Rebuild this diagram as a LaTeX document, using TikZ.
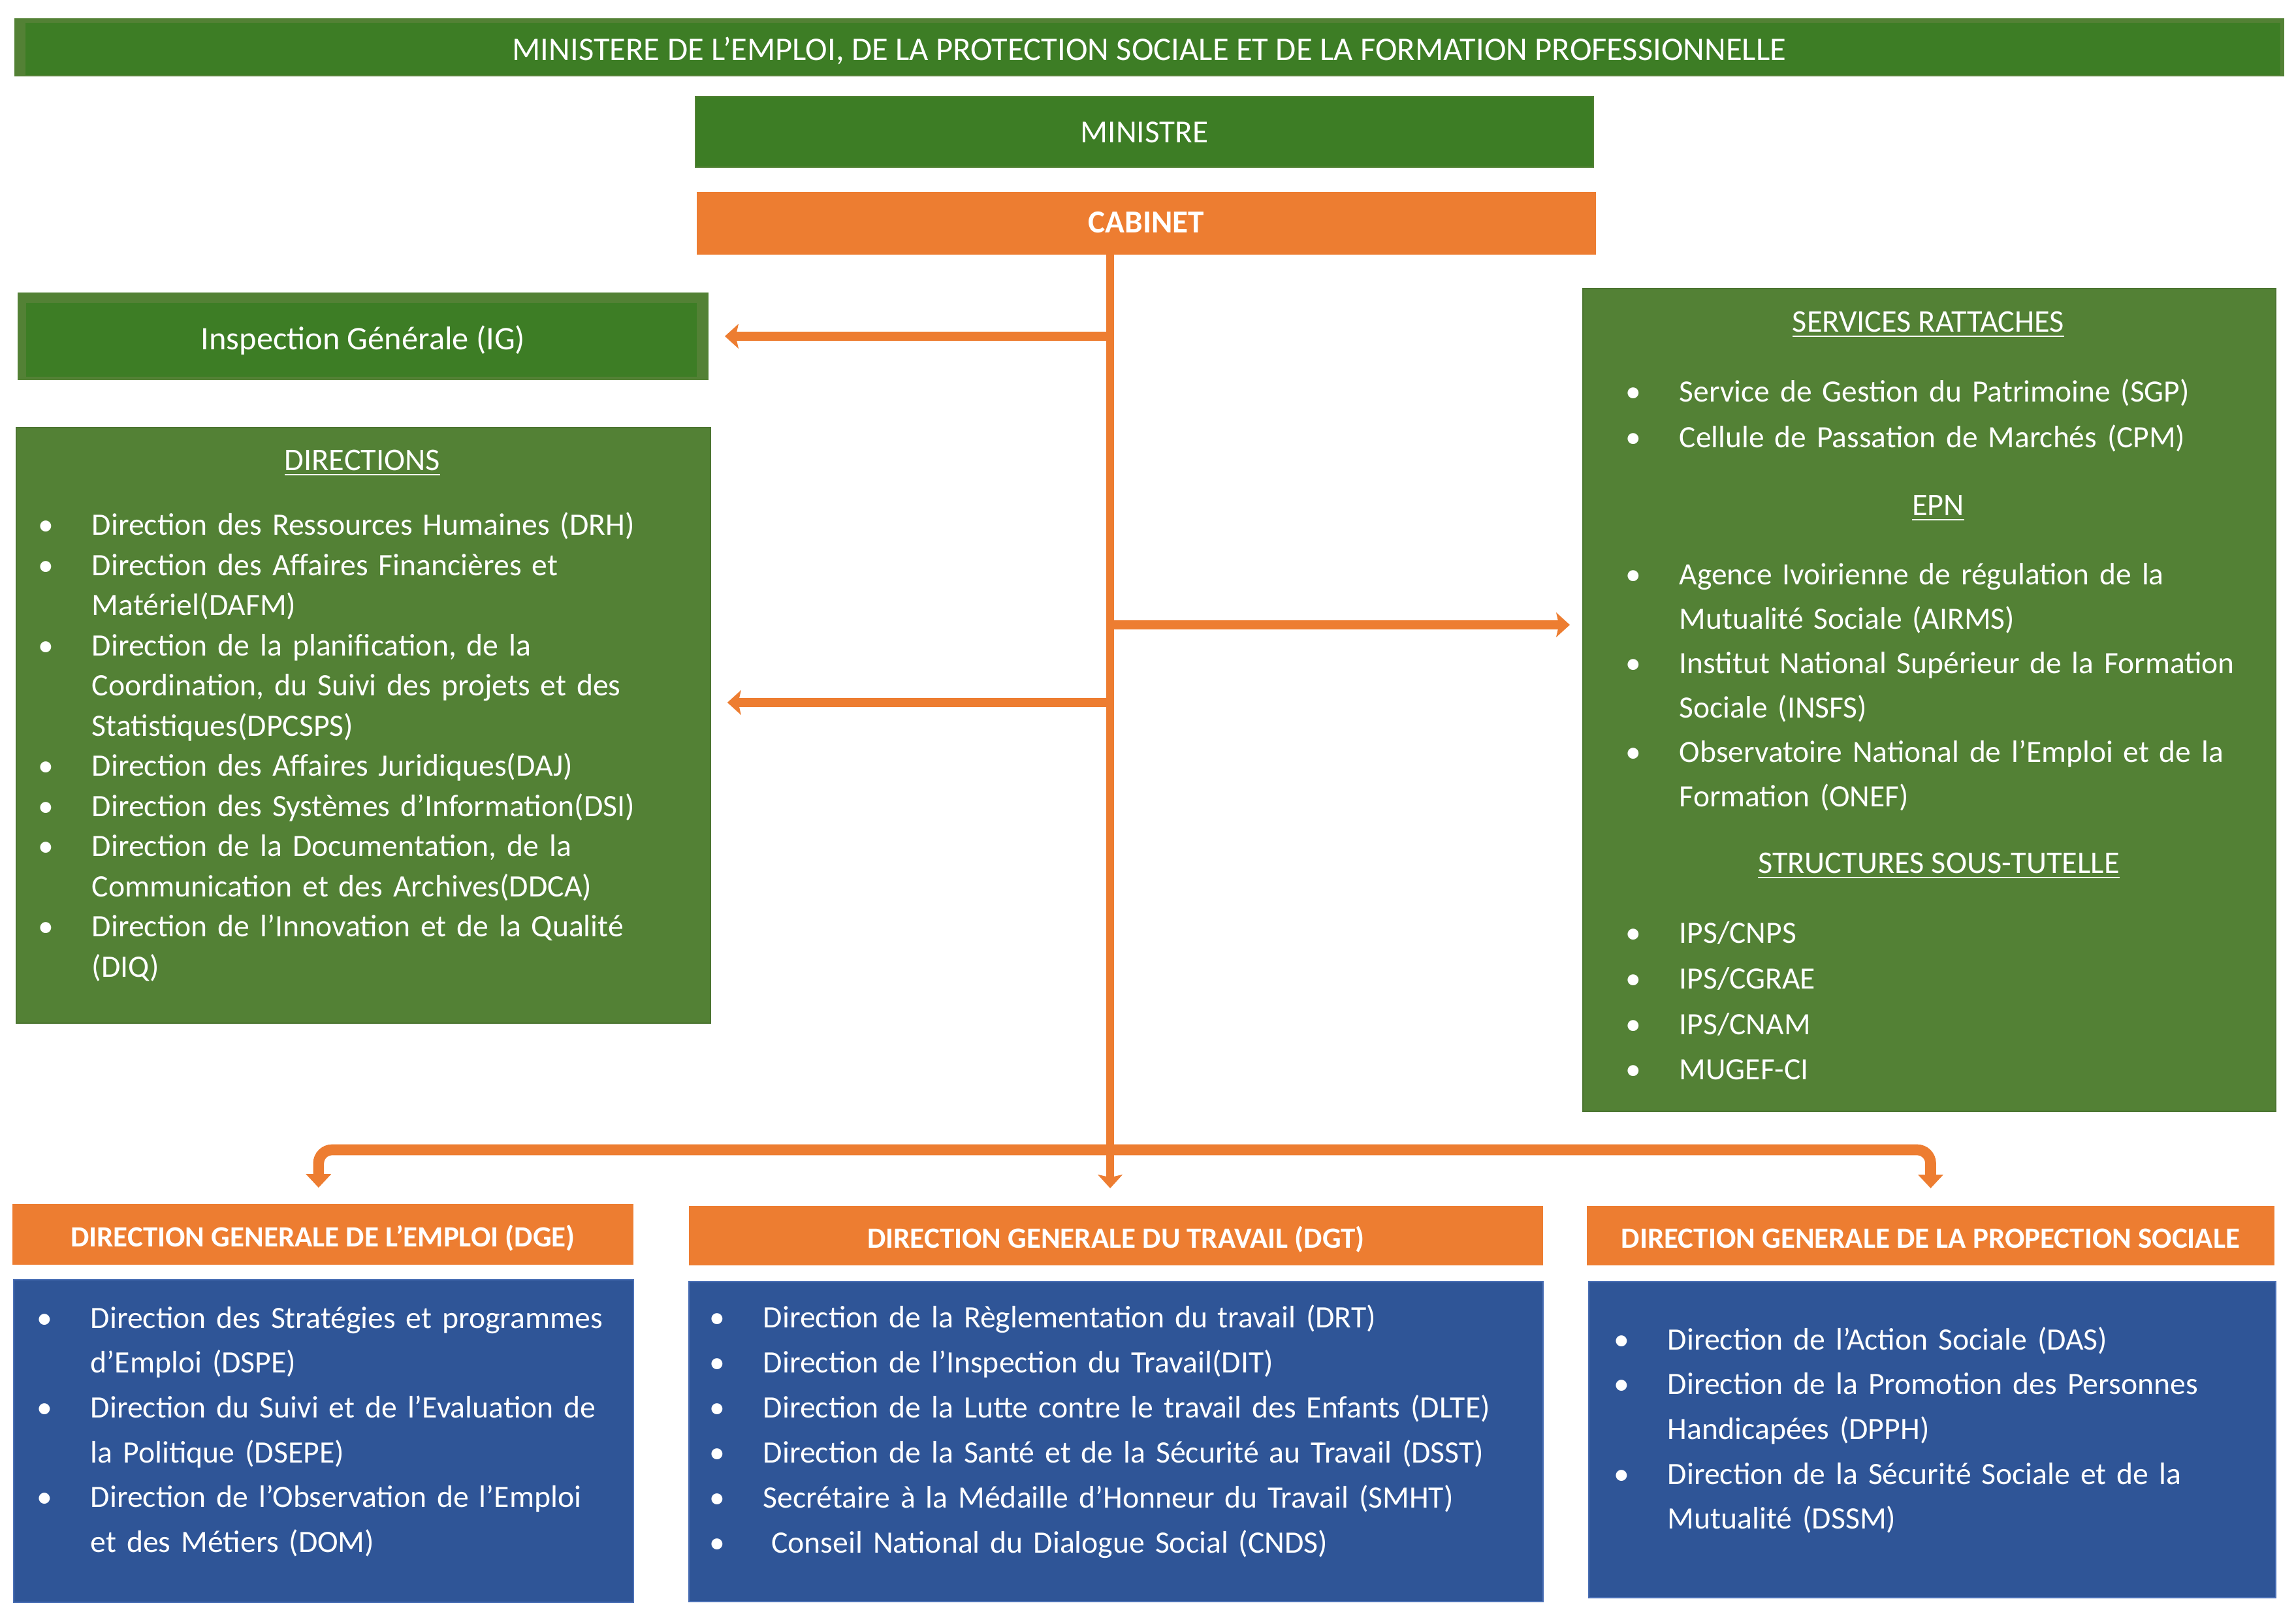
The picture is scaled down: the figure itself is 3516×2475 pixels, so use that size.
\documentclass[tikz,border=0pt]{standalone}
\usepackage{fontspec}
\setmainfont{Carlito}
\usetikzlibrary{arrows.meta}
\definecolor{dkgreen}{HTML}{3D7D25}
\definecolor{mdgreen}{HTML}{538135}
\definecolor{orng}{HTML}{ED7D31}
\definecolor{dblue}{HTML}{2F5597}
\definecolor{edgeblue}{HTML}{4A6FB5}
\newcommand\itm[1]{\hangindent=19.2pt\hangafter=1\noindent\hbox to 19.2pt{\hss\makebox[0pt]{•}\hskip 17pt}#1\par}
\tikzset{
  box/.style={rectangle, inner sep=0pt, outer sep=0pt},
  mbox/.style={box, fill=mdgreen, draw=mdgreen!90!black, line width=0.6pt},
  obox/.style={box, fill=orng},
  bbox/.style={box, fill=dblue, draw=edgeblue, line width=0.6pt},
  txt/.style={text=white, font=\fontsize{11.8}{14}\selectfont},
  hdr/.style={text=white, font=\bfseries\fontsize{10.8}{13}\selectfont, text height=9.4pt, text depth=0.5pt},
  ttl/.style={text=white, font=\fontsize{11.6}{14}\selectfont, anchor=base, inner sep=0pt},
  lst/.style={text=white, anchor=base west, inner sep=0pt, align=left},
  conn/.style={draw=orng, line width=3.2pt, -{Stealth[length=5pt,width=9pt,inset=1pt]}},
  busline/.style={draw=orng, line width=4pt, rounded corners=5pt,
     {Triangle[length=5pt,width=9pt]}-{Triangle[length=5pt,width=9pt]}}
}
\begin{document}
\begin{tikzpicture}[x=0.24pt, y=-0.24pt]
\useasboundingbox (0,0) rectangle (3516,2475);
% top boxes
\node[box, fill=mdgreen, text=white, font=\fontsize{12.15}{14}\selectfont,
  text height=9.8pt, text depth=0.6pt,
  minimum width={3476*0.24pt}, minimum height={89*0.24pt},
  path picture={\fill[dkgreen] ([shift={(4pt,-1.5pt)}]path picture bounding box.north west) rectangle ([shift={(-1.5pt,0.6pt)}]path picture bounding box.south east);}] (ban) at (1760,73)
  {MINISTERE DE L’EMPLOI, DE LA PROTECTION SOCIALE ET DE LA FORMATION PROFESSIONNELLE};
\node[box, fill=dkgreen, draw=mdgreen, line width=0.5pt, txt, text height=8.6pt, text depth=0.8pt,
  minimum width={1375*0.24pt}, minimum height={108*0.24pt}] (min) at (1752.5,202) {MINISTRE};
\node[obox, text=white, font=\bfseries\fontsize{11.8}{14}\selectfont, text height=8.2pt, text depth=1pt,
  minimum width={1377*0.24pt}, minimum height={96*0.24pt}] (cab) at (1755.5,342) {CABINET};
\node[box, fill=mdgreen, text=white, font=\fontsize{12.1}{14}\selectfont, text height=10.6pt, text depth=0.6pt,
  minimum width={1058*0.24pt}, minimum height={134*0.24pt},
  path picture={\fill[dkgreen] ([shift={(3.1pt,-3.8pt)}]path picture bounding box.north west) rectangle ([shift={(-4.3pt,1.1pt)}]path picture bounding box.south east);}] (ig) at (556,515)
  {Inspection Générale (IG)};
% directions box
\node[mbox, minimum width={1063*0.24pt}, minimum height={912*0.24pt}] (dirbox) at (556.5,1111) {};
\node[ttl] (dirttl) at (555,721) {\underline{DIRECTIONS}};
\node[lst, text width=270pt, font=\fontsize{11.45}{14.76}\selectfont] (dirlst) at (60,820) {%
\itm{Direction des Ressources Humaines (DRH)}%
\itm{Direction des Affaires Financières et\newline Matériel(DAFM)}%
\itm{Direction de la planification, de la\newline Coordination, du Suivi des projets et des\newline Statistiques(DPCSPS)}%
\itm{Direction des Affaires Juridiques(DAJ)}%
\itm{Direction des Systèmes d’Information(DSI)}%
\itm{Direction de la Documentation, de la\newline Communication et des Archives(DDCA)}%
\itm{Direction de l’Innovation et de la Qualité\newline (DIQ)}};
% right box
\node[mbox, minimum width={1061*0.24pt}, minimum height={1260*0.24pt}] (rbox) at (2954.5,1072) {};
\node[ttl] (srttl) at (2953,509) {\underline{SERVICES RATTACHES}};
\node[lst, text width=250pt, font=\fontsize{11.4}{16.7}\selectfont] (srlst) at (2491,616) {%
\itm{Service de Gestion du Patrimoine (SGP)}%
\itm{Cellule de Passation de Marchés (CPM)}};
\node[ttl] (epnttl) at (2968,790) {\underline{EPN}};
\node[lst, text width=250pt, font=\fontsize{11.4}{16.3}\selectfont] (epnlst) at (2491,896) {%
\itm{Agence Ivoirienne de régulation de la\newline Mutualité Sociale (AIRMS)}%
\itm{Institut National Supérieur de la Formation\newline Sociale (INSFS)}%
\itm{Observatoire National de l'Emploi et de la\newline Formation (ONEF)}};
\node[ttl] (stttl) at (2969,1338) {\underline{STRUCTURES SOUS-TUTELLE}};
\node[lst, text width=250pt, font=\fontsize{11.4}{16.7}\selectfont] (stlst) at (2491,1445) {%
\itm{IPS/CNPS}%
\itm{IPS/CGRAE}%
\itm{IPS/CNAM}%
\itm{MUGEF-CI}};
% direction generale headers
\node[obox, hdr, minimum width={951*0.24pt}, minimum height={93*0.24pt}] (dge) at (494.5,1890.5) {DIRECTION GENERALE DE L’EMPLOI (DGE)};
\node[obox, hdr, minimum width={1308*0.24pt}, minimum height={91*0.24pt}] (dgt) at (1709,1892.5) {DIRECTION GENERALE DU TRAVAIL (DGT)};
\node[obox, hdr, minimum width={1053*0.24pt}, minimum height={91*0.24pt}] (dgps) at (2956.5,1892.5) {DIRECTION GENERALE DE LA PROPECTION SOCIALE};
% blue boxes
\node[bbox, minimum width={949*0.24pt}, minimum height={494*0.24pt}] (dgeb) at (495.5,2207) {};
\node[bbox, minimum width={1308*0.24pt}, minimum height={490*0.24pt}] (dgtb) at (1709,2208) {};
\node[bbox, minimum width={1052*0.24pt}, minimum height={484*0.24pt}] (dgpsb) at (2959,2205) {};
\node[lst, text width=240pt, font=\fontsize{11.45}{16.5}\selectfont] (dgelst) at (58,2034) {%
\itm{Direction des Stratégies et programmes\newline d’Emploi (DSPE)}%
\itm{Direction du Suivi et de l’Evaluation de\newline la Politique (DSEPE)}%
\itm{Direction de l’Observation de l’Emploi\newline et des Métiers (DOM)}};
\node[lst, text width=310pt, font=\fontsize{11.45}{16.6}\selectfont] (dgtlst) at (1088,2033) {%
\itm{Direction de la Règlementation du travail (DRT)}%
\itm{Direction de l’Inspection du Travail(DIT)}%
\itm{Direction de la Lutte contre le travail des Enfants (DLTE)}%
\itm{Direction de la Santé et de la Sécurité au Travail (DSST)}%
\itm{Secrétaire à la Médaille d’Honneur du Travail (SMHT)}%
\itm{\hspace{3pt}Conseil National du Dialogue Social (CNDS)}};
\node[lst, text width=250pt, font=\fontsize{11.45}{16.5}\selectfont] (dgpslst) at (2473,2067) {%
\itm{Direction de l’Action Sociale (DAS)}%
\itm{Direction de la Promotion des Personnes\newline Handicapées (DPPH)}%
\itm{Direction de la Sécurité Sociale et de la\newline Mutualité (DSSM)}};
% connectors
\coordinate (tk) at ([xshift=-13.3pt]cab.south);
\coordinate (dirin) at ([yshift=8.4pt]dirbox.east);
\coordinate (rin) at ([yshift=27.6pt]rbox.west);
\coordinate (bus) at (1700,1761);
\draw[busline, shorten <=6pt, shorten >=6.5pt] ([xshift=-1.6pt]dge.north) |- (bus) -| (dgps.north);
\draw[conn, line width=3pt, shorten >=6.5pt] (tk) -- (tk |- dgt.north);
\draw[conn, shorten >=6pt] (tk |- ig.east) -- (ig.east);
\draw[conn, shorten >=6.2pt] (tk |- dirin) -- (dirin);
\draw[conn, shorten >=4.8pt] (tk |- rin) -- (rin);
\end{tikzpicture}
\end{document}
